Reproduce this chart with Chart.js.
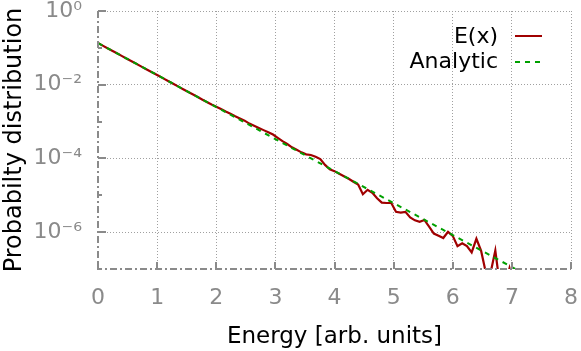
<!DOCTYPE html>
<html>
<head>
<meta charset="utf-8">
<script src="https://cdn.jsdelivr.net/npm/chart.js@4/dist/chart.umd.min.js"></script>
<style>
html,body{margin:0;padding:0;background:#fff;}
canvas{display:block;}
</style>
</head>
<body>
<canvas id="c" width="581" height="351"></canvas>
<script>
// ---- data ----
const energy = [0,0.08,0.16,0.24,0.32,0.40,0.48,0.56,0.64,0.72,0.80,0.88,0.96,1.04,1.12,1.20,1.28,1.36,1.44,1.52,1.60,1.68,1.76,1.84,1.92,2.00,2.08,2.16,2.24,2.32,2.40,2.48,2.56,2.64,2.72,2.80,2.88,2.96,3.04,3.12,3.20,3.28,3.36,3.44,3.52,3.60,3.68,3.76,3.84,3.92,4.00,4.08,4.16,4.24,4.32,4.40,4.48,4.56,4.64,4.72,4.80,4.88,4.96,5.04,5.12,5.20,5.28,5.36,5.44,5.52,5.60,5.68,5.76,5.84,5.92,6.00,6.08,6.16,6.24,6.32,6.40,6.48,6.56,6.64,6.72,6.80,6.88,6.96,7.04];
const eValues = [0.1349,0.1150,0.0980,0.0835,0.0711,0.0606,0.0517,0.0440,0.0375,0.0320,0.0272,0.0232,0.0198,0.0169,0.0144,0.0122,0.0104,0.00889,0.00757,0.00645,0.00550,0.00469,0.00399,0.00340,0.00290,0.00253,0.00221,0.00187,0.00164,0.00139,0.00122,0.00106,8.83e-4,7.71e-4,6.72e-4,5.86e-4,5.11e-4,4.45e-4,3.63e-4,2.95e-4,2.46e-4,2.00e-4,1.71e-4,1.46e-4,1.29e-4,1.24e-4,1.11e-4,9.63e-5,6.68e-5,5.07e-5,4.52e-5,3.85e-5,3.28e-5,2.80e-5,2.33e-5,1.95e-5,1.07e-5,1.41e-5,1.17e-5,8.32e-6,6.31e-6,6.17e-6,6.17e-6,3.55e-6,3.39e-6,3.55e-6,2.51e-6,2.09e-6,1.91e-6,2.14e-6,1.41e-6,9.12e-7,7.94e-7,6.92e-7,1.02e-6,7.94e-7,4.17e-7,5.01e-7,4.17e-7,2.82e-7,6.61e-7,3.09e-7,7.9e-8,7.9e-8,3.16e-7,3.2e-8,3.2e-8,1.05e-7,3.2e-8];
const analyticX = [0,1,2,3,4,5,6,7,8];
const analyticY = [0.135,0.0183,0.00248,3.35e-4,4.54e-5,6.14e-6,8.32e-7,1.13e-7,1.52e-8];
const xTickValues = [0,1,2,3,4,5,6,7,8];
const yAllTicks = [1e-7,1e-6,1e-5,1e-4,1e-3,1e-2,1e-1,1];
const yTickValues = [1,1e-2,1e-4,1e-6];
const yTickLabels = ['10\u2070','10\u207B\u00B2','10\u207B\u2074','10\u207B\u2076'];
const seriesNames = ['E(x)','Analytic'];
const xTitle = 'Energy [arb. units]';
const yTitle = 'Probabilty distribution';

const FONT = "'DejaVu Sans', sans-serif";
const GRAY = '#8a8a8a';
const GRID = '#a0a0a0';
const RED = '#a00000';
const GREEN = '#00a000';

function labelFor(v){
  for(let i=0;i<yTickValues.length;i++){
    if(Math.abs(Math.log10(v)-Math.log10(yTickValues[i]))<1e-6) return yTickLabels[i];
  }
  return '';
}

const frame = {
  id:'frame',
  afterDatasetsDraw(chart){
    const {ctx, chartArea:a, scales:{x,y}} = chart;
    ctx.save();
    ctx.strokeStyle = GRAY; ctx.lineWidth = 2;
    ctx.setLineDash([7,3,2,3]);
    ctx.beginPath();
    ctx.moveTo(a.left, a.top); ctx.lineTo(a.left, a.bottom);
    ctx.lineTo(a.right, a.bottom);
    ctx.stroke();
    ctx.setLineDash([]);
    yAllTicks.forEach(v=>{
      const py = Math.round(y.getPixelForValue(v));
      const major = labelFor(v)!=='' ;
      ctx.beginPath(); ctx.lineWidth=2;
      ctx.moveTo(a.left, py); ctx.lineTo(a.left + (major?8:4), py); ctx.stroke();
    });
    xTickValues.forEach(v=>{
      const px = Math.round(x.getPixelForValue(v));
      ctx.beginPath(); ctx.lineWidth=2;
      ctx.moveTo(px, a.bottom); ctx.lineTo(px, a.bottom-7); ctx.stroke();
    });
    const colors=[RED,GREEN], dashes=[[],[5,5]], ys=[36,62], tys=[43,68];
    ctx.font = '22px '+FONT; ctx.fillStyle='#000'; ctx.textAlign='right'; ctx.textBaseline='alphabetic';
    seriesNames.forEach((n,i)=>{
      ctx.fillText(n, 498, tys[i]);
      ctx.beginPath(); ctx.strokeStyle=colors[i]; ctx.lineWidth=2; ctx.setLineDash(dashes[i]);
      ctx.moveTo(515, ys[i]); ctx.lineTo(542, ys[i]); ctx.stroke();
    });
    ctx.restore();
  }
};

new Chart(document.getElementById('c'), {
  type:'line',
  data:{
    datasets:[
      {label:seriesNames[0], data:energy.map((e,i)=>({x:e,y:eValues[i]})), borderColor:RED, borderWidth:2.2, pointRadius:0, tension:0, fill:false, order:2},
      {label:seriesNames[1], data:analyticX.map((e,i)=>({x:e,y:analyticY[i]})), borderColor:GREEN, borderWidth:2, borderDash:[5,5], pointRadius:0, tension:0, fill:false, order:1}
    ]
  },
  options:{
    responsive:false, animation:false, devicePixelRatio:1,
    layout:{padding:{left:0,right:10,top:11,bottom:0}},
    plugins:{legend:{display:false}, tooltip:{enabled:false}},
    scales:{
      x:{
        type:'linear', min:0, max:8,
        afterBuildTicks:(s)=>{ s.ticks = xTickValues.map(v=>({value:v})); },
        afterFit:(s)=>{ s.height = 82; s.paddingLeft = 0; s.paddingRight = 0; },
        ticks:{color:GRAY, font:{family:FONT,size:22}, padding:16, maxRotation:0, autoSkip:false, callback:(v)=>String(v)},
        grid:{drawTicks:false, lineWidth:1, color:(c)=> (c.tick && c.tick.value===0) ? 'rgba(0,0,0,0)' : GRID},
        border:{display:false, dash:[1,2]},
        title:{display:true, text:xTitle, color:'#000', font:{family:FONT,size:23}, padding:{top:0,bottom:0}}
      },
      y:{
        type:'logarithmic', min:1e-7, max:1,
        afterBuildTicks:(s)=>{ s.ticks = yAllTicks.map(v=>({value:v})); },
        afterFit:(s)=>{ s.width = 98; s.paddingTop = 0; s.paddingBottom = 0; },
        ticks:{color:GRAY, font:{family:FONT,size:22}, padding:16, autoSkip:false, callback:(v)=>labelFor(v)},
        grid:{drawTicks:false, lineWidth:1, color:(c)=> (c.tick && labelFor(c.tick.value)!=='') ? GRID : 'rgba(0,0,0,0)'},
        border:{display:false, dash:[1,2]},
        title:{display:true, text:yTitle, color:'#000', font:{family:FONT,size:24}, padding:{top:0,bottom:0}}
      }
    }
  },
  plugins:[frame]
});
</script>
</body>
</html>
